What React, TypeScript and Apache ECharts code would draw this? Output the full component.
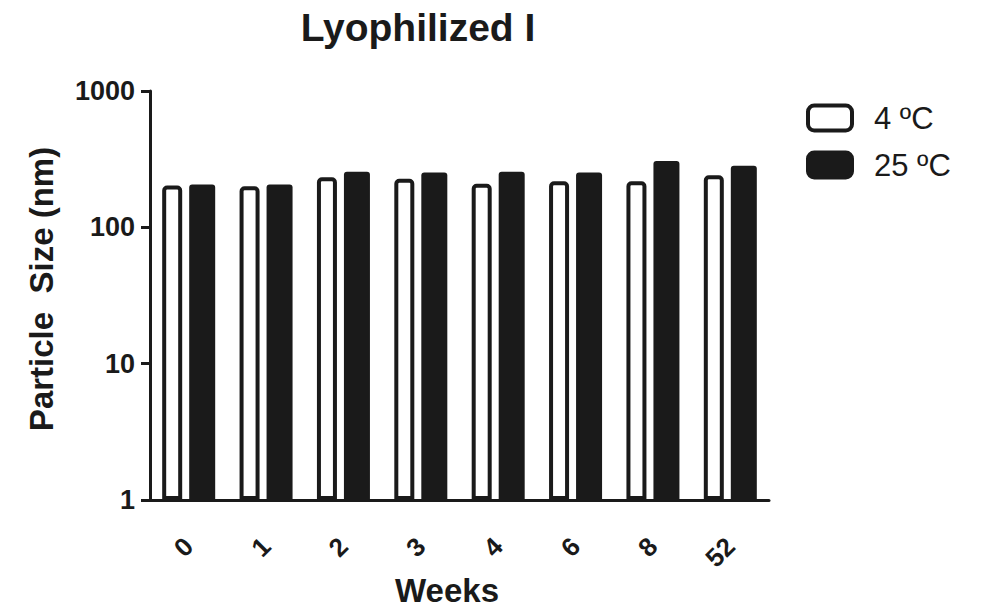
import React, { useEffect, useRef } from "react";
import * as echarts from "echarts";

const weeks = ["0", "1", "2", "3", "4", "6", "8", "52"];
const cold4C = [203, 200, 233, 227, 209, 218, 218, 241];
const warm25C = [206, 206, 256, 252, 256, 252, 307, 283];
const yTicks = [1, 10, 100, 1000];

const FONT = "'Liberation Sans', Arial, sans-serif";
const INK = "#1a1a1a";

export default function App() {
  const ref = useRef<HTMLDivElement>(null);
  useEffect(() => {
    document.body.style.margin = "0";
    if (!ref.current) return;
    const chart = echarts.init(ref.current, null, { renderer: "svg" });
    chart.setOption({
      animation: false,
      backgroundColor: "#ffffff",
      title: {
        text: "Lyophilized I",
        left: 418,
        top: 8,
        padding: 0,
        textAlign: "center",
        textStyle: { fontFamily: FONT, fontSize: 39, fontWeight: "bold", color: INK },
      },
      legend: {
        orient: "vertical",
        left: 806,
        top: 102,
        padding: 0,
        itemWidth: 44,
        itemHeight: 25,
        itemGap: 15,
        textStyle: { fontFamily: FONT, fontSize: 31, lineHeight: 32, color: INK, padding: [0, 0, 0, 17] },
        data: [
          { name: "4 ºC", itemStyle: { color: "#ffffff", borderColor: INK, borderWidth: 4 } },
          { name: "25 ºC", itemStyle: { color: INK, borderColor: INK, borderWidth: 4 } },
        ],
      },
      graphic: [
        {
          type: "text",
          x: 447,
          y: 590,
          style: {
            text: "Weeks",
            fontFamily: FONT,
            fontSize: 33,
            fontWeight: "bold",
            fill: INK,
            align: "center",
            verticalAlign: "middle",
          },
        },
        {
          type: "text",
          x: 41,
          y: 289,
          rotation: Math.PI / 2,
          style: {
            text: "Particle  Size (nm)",
            fontFamily: FONT,
            fontSize: 33,
            fontWeight: "bold",
            fill: INK,
            align: "center",
            verticalAlign: "middle",
          },
        },
      ],
      grid: { left: 150, top: 91, right: 214, bottom: 110, containLabel: false },
      xAxis: {
        type: "category",
        data: weeks,
        axisLine: { lineStyle: { color: INK, width: 3 } },
        axisTick: { alignWithLabel: true, length: 13, lineStyle: { color: INK, width: 3 } },
        axisLabel: {
          rotate: 45,
          margin: 42,
          fontFamily: FONT,
          fontSize: 26,
          fontWeight: "bold",
          color: INK,
        },
      },
      yAxis: {
        type: "log",
        logBase: 10,
        min: 1,
        max: 1000,
        splitLine: { show: false },
        axisLine: { show: true, lineStyle: { color: INK, width: 3 } },
        axisTick: { show: true, length: 9, lineStyle: { color: INK, width: 3 } },
        axisLabel: {
          margin: 15,
          fontFamily: FONT,
          fontSize: 27,
          fontWeight: "bold",
          color: INK,
          formatter: (v: number) => {
            const r = yTicks.find((t) => Math.abs(t - v) / t < 1e-6);
            return r !== undefined ? String(r) : "";
          },
        },
      },
      series: [
        {
          name: "4 ºC",
          type: "bar",
          data: cold4C,
          barWidth: 20,
          barGap: "35%",
          itemStyle: { color: "#ffffff", borderColor: INK, borderWidth: 4, borderRadius: [3, 3, 0, 0] },
        },
        {
          name: "25 ºC",
          type: "bar",
          data: warm25C,
          barWidth: 26,
          itemStyle: { color: INK, borderRadius: [3, 3, 0, 0] },
        },
      ],
    });
    return () => chart.dispose();
  }, []);
  return <div ref={ref} style={{ width: 983, height: 610 }} />;
}
